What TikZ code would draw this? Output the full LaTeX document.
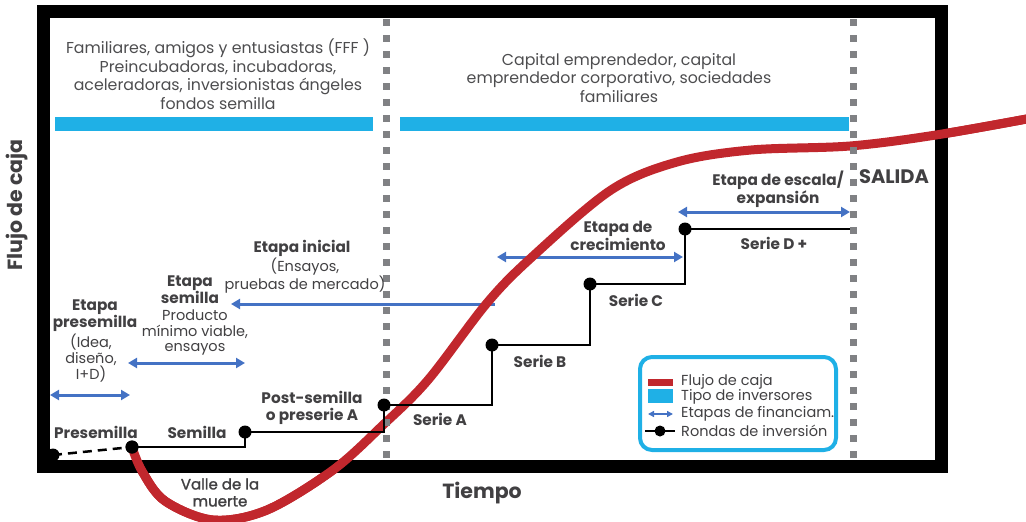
\documentclass[tikz,border=0pt]{standalone}
\usepackage{fontspec}
\setmainfont{Poppins}
\newfontfamily\medfont{Poppins}[FakeBold=1.5]
\usetikzlibrary{arrows.meta}
\definecolor{redc}{HTML}{C1272D}
\definecolor{cyanc}{HTML}{1FB0E6}
\definecolor{bluea}{HTML}{4472C4}
\definecolor{txt}{HTML}{414042}
\definecolor{toptxt}{HTML}{4D4D4F}
\definecolor{dgray}{HTML}{808184}
\begin{document}
\begin{tikzpicture}[x=1pt,y=-1pt,
  toptext/.style={font=\fontsize{15.8}{18.6}\selectfont, text=toptxt, align=center, inner sep=0pt},
  blbl/.style={font=\fontsize{15.3}{16}\selectfont\bfseries, text=txt, align=center, inner sep=0pt},
  rlbl/.style={font=\fontsize{14.5}{16}\selectfont, text=txt, align=center, inner sep=0pt},
  legtxt/.style={font=\fontsize{14.5}{16}\selectfont, text=txt, anchor=west, inner sep=0pt},
  stagearrow/.style={bluea, line width=3pt, {Triangle[length=9pt,width=10pt]}-{Triangle[length=9pt,width=10pt]}},
  leftarrow/.style={bluea, line width=3pt, {Triangle[length=9pt,width=10pt]}-},
  roundline/.style={black, line width=2.5pt},
  rdot/.style={circle, fill=black, inner sep=0pt, minimum size=13pt},
  graydash/.style={dgray, line width=7pt, dash pattern=on 7pt off 9pt},
  cyanbar/.style={fill=cyanc, draw=none}
]
\useasboundingbox (0,0) rectangle (1026,522);

% investor bars
\fill[cyanbar] (55,117) rectangle (373,131);
\fill[cyanbar] (400,117) rectangle (849,131);

% investor texts
\node[toptext] (fff) at (218,74) {Familiares, amigos y entusiastas (FFF )\\Preincubadoras, incubadoras,\\aceleradoras, inversionistas ángeles\\fondos semilla};
\node[toptext] (cap) at (619,78) {Capital emprendedor, capital\\emprendedor corporativo, sociedades\\familiares};

% financing stage arrows
\coordinate (a1l) at (50,395); \coordinate (a1r) at (130,395);
\coordinate (a2l) at (128,363); \coordinate (a2r) at (245,363);
\coordinate (a3l) at (231,304); \coordinate (a3r) at (495,304);
\coordinate (a4l) at (497,257); \coordinate (a4r) at (683,257);
\coordinate (a5l) at (678,212); \coordinate (a5r) at (850,212);
\draw[stagearrow] (a1l) -- (a1r);
\draw[stagearrow] (a2l) -- (a2r);
\draw[leftarrow] (a3l) -- (a3r);
\draw[stagearrow] (a4l) -- (a4r);
\draw[stagearrow] (a5l) -- (a5r);

% cash flow curve
\draw[redc, line width=9pt, line cap=butt] plot[smooth, tension=0.55] coordinates {
  (132,447) (142,471) (165,501) (213,520) (267,510) (333,470) (383,425)
  (428,380) (487,303) (532,257) (611,190) (677,162) (751,150) (850,146)
  (936,135) (1032,118)};

% dashed separators
\coordinate (d1t) at (386,19); \coordinate (d1b) at (386,460);
\coordinate (d2t) at (853,19); \coordinate (d2b) at (853,460);
\draw[graydash] (d1t) -- (d1b);
\draw[graydash] (d2t) -- (d2b);

% investment rounds
\node[rdot] (p0) at (53,455) {};
\node[rdot] (p1) at (132,447) {};
\node[rdot] (p2) at (245,432) {};
\node[rdot] (p3) at (384,405) {};
\node[rdot] (p4) at (492,345) {};
\node[rdot] (p5) at (590,284) {};
\node[rdot] (p6) at (685,229) {};
\coordinate (pend) at (850,229);
\draw[roundline, dash pattern=on 9pt off 6pt] (p0.center) -- (p1.center);
\draw[roundline] (p1.center) -| (p2.center);
\draw[roundline] (p2.center) -| (p3.center);
\draw[roundline] (p3.center) -| (p4.center);
\draw[roundline] (p4.center) -| (p5.center);
\draw[roundline] (p5.center) -| (p6.center);
\draw[roundline] (p6.center) -- (pend);

% round labels
\node[blbl] (lpre) at (96,432) {Presemilla};
\node[blbl] (lsem) at (197,432) {Semilla};
\node[blbl, font=\fontsize{15.3}{17}\selectfont\bfseries] (lpost) at (312,407.5) {Post-semilla\\o preserie A};
\node[blbl] (lsa) at (440,419) {Serie A};
\node[blbl] (lsb) at (540,361) {Serie B};
\node[blbl] (lsc) at (636,300) {Serie C};
\node[blbl] (lsd) at (774,243) {Serie D +};
\node[rlbl, font=\fontsize{15}{17}\selectfont\medfont] (valle) at (220,492.5) {Valle de la\\muerte};

% stage labels
\node[blbl, font=\fontsize{15.3}{15}\selectfont\bfseries] (epre) at (95,315.5) {Etapa\\presemilla};
\node[rlbl] (epret) at (91,358) {(Idea,\\diseño,\\I+D)};
\node[blbl, font=\fontsize{15.3}{14.5}\selectfont\bfseries] (esem) at (190,290) {Etapa\\semilla};
\node[rlbl, font=\fontsize{14.5}{15.5}\selectfont] (esemt) at (195,333) {Producto\\mínimo viable,\\ensayos};
\node[blbl] (eini) at (302,248) {Etapa inicial};
\node[rlbl, font=\fontsize{14.5}{17}\selectfont] (einit) at (305,275.5) {(Ensayos,\\pruebas de mercado)};
\node[blbl] (ecre) at (618,236) {Etapa de\\crecimiento};
\node[blbl] (eesc) at (778,189.5) {Etapa de escala/\\expansión};
\node[blbl, font=\fontsize{19.5}{20}\selectfont\bfseries] (salida) at (894,177) {SALIDA};

% legend
\draw[cyanc, line width=4pt, rounded corners=12pt] (640,357) rectangle (836,450);
\fill[redc] (648,379) rectangle (673,386);
\fill[cyanc] (648,389) rectangle (673,403);
\coordinate (lal) at (648,414); \coordinate (lar) at (673,414);
\draw[bluea, line width=2pt, {Triangle[length=6pt,width=6pt]}-{Triangle[length=6pt,width=6pt]}] (lal) -- (lar);
\coordinate (lbl) at (645,431); \coordinate (lbr) at (675,431);
\draw[black, line width=2.5pt] (lbl) -- (lbr);
\node[rdot, minimum size=11pt] (ldot) at (660,431) {};
\node[legtxt] (l1) at (681,382) {Flujo de caja};
\node[legtxt] (l2) at (681,397) {Tipo de inversores};
\node[legtxt] (l3) at (681,414) {Etapas de financiam.};
\node[legtxt] (l4) at (681,431) {Rondas de inversión};

% frame
\draw[black, line width=13pt] (43,11.5) rectangle (941.5,466.5);

% cash flow curve over frame (redraw)
\begin{scope}
\clip (0,460) rectangle (1026,522);
\draw[redc, line width=9pt] plot[smooth, tension=0.55] coordinates {
  (132,447) (142,471) (165,501) (213,520) (267,510) (333,470) (383,425)
  (428,380) (487,303) (532,257) (611,190) (677,162) (751,150) (850,146)
  (936,135) (1032,118)};
\end{scope}
\begin{scope}
\clip (935,0) rectangle (1026,460);
\draw[redc, line width=9pt] plot[smooth, tension=0.55] coordinates {
  (132,447) (142,471) (165,501) (213,520) (267,510) (333,470) (383,425)
  (428,380) (487,303) (532,257) (611,190) (677,162) (751,150) (850,146)
  (936,135) (1032,118)};
\end{scope}
\node[rdot] (p1b) at (132,447) {};

% axis labels
\node[blbl, font=\fontsize{20.5}{21}\selectfont\bfseries, rotate=90] (ylab) at (17,205) {Flujo de caja};
\node[blbl, font=\fontsize{20.5}{21}\selectfont\bfseries] (xlab) at (482,493) {Tiempo};
\end{tikzpicture}
\end{document}
